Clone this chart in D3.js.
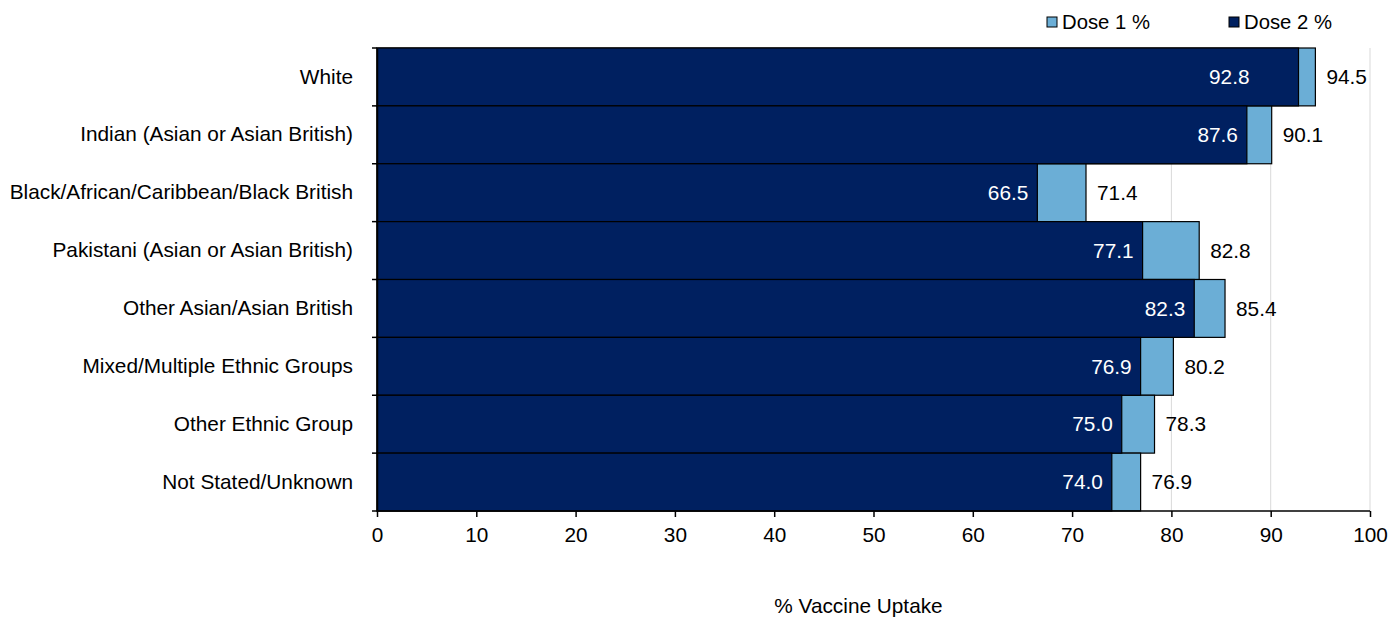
<!DOCTYPE html>
<html><head><meta charset="utf-8">
<script src="https://cdn.jsdelivr.net/npm/d3@7"></script>
<style>body{margin:0;background:#fff}svg{display:block}text{font-family:"Liberation Sans",Arial,sans-serif}</style>
</head><body><svg id="c" width="1391" height="619"></svg>
<script>
const categories = ["White","Indian (Asian or Asian British)","Black/African/Caribbean/Black British","Pakistani (Asian or Asian British)","Other Asian/Asian British","Mixed/Multiple Ethnic Groups","Other Ethnic Group","Not Stated/Unknown"];
const dose1 = [94.5,90.1,71.4,82.8,85.4,80.2,78.3,76.9];
const dose2 = [92.8,87.6,66.5,77.1,82.3,76.9,75.0,74.0];
const xTicks = [0,10,20,30,40,50,60,70,80,90,100];
const seriesNames = ["Dose 1 %","Dose 2 %"];
const colors = ["#6baed6","#002060"];

const svg = d3.select("#c");
const m = {left:377, top:48, right:21, bottom:108};
const W = 1391 - m.left - m.right, H = 619 - m.top - m.bottom;
const g = svg.append("g").attr("transform",`translate(${m.left},${m.top})`);
const x = d3.scaleLinear().domain([0,100]).range([0,W]);
const y = d3.scaleBand().domain(categories).range([0,H]).padding(0);
const rows = categories.map((c,i)=>({c,d1:dose1[i],d2:dose2[i],i}));
const fs = 20.8;
const ff = "Liberation Sans, Arial, sans-serif";

// gridlines
g.selectAll(".grid").data(xTicks.slice(1)).join("line")
  .attr("x1",d=>x(d)).attr("x2",d=>x(d)).attr("y1",0).attr("y2",H)
  .attr("stroke","#d9d9d9").attr("stroke-width",1);

// dose1 bars
g.selectAll(".b1").data(rows).join("rect")
  .attr("x",x(0)).attr("y",d=>y(d.c)).attr("width",d=>x(d.d1)-x(0)).attr("height",y.bandwidth())
  .attr("fill",colors[0]).attr("stroke","#000").attr("stroke-width",1.2);
// dose2 bars
g.selectAll(".b2").data(rows).join("rect")
  .attr("x",x(0)).attr("y",d=>y(d.c)).attr("width",d=>x(d.d2)-x(0)).attr("height",y.bandwidth())
  .attr("fill",colors[1]).attr("stroke","#000").attr("stroke-width",1.2);

// labels
g.selectAll(".l2").data(rows).join("text")
  .attr("x",d=>x(d.d2) - (d.d1===d3.max(dose1) ? 49 : 9))
  .attr("y",d=>y(d.c)+y.bandwidth()/2).attr("dy","0.35em")
  .attr("text-anchor","end").attr("fill","#fff").attr("font-size",fs)
  .text(d=>d.d2.toFixed(1));
g.selectAll(".l1").data(rows).join("text")
  .attr("x",d=>x(d.d1)+11)
  .attr("y",d=>y(d.c)+y.bandwidth()/2).attr("dy","0.35em")
  .attr("text-anchor","start").attr("fill","#000").attr("font-size",fs)
  .text(d=>d.d1.toFixed(1));

// y axis
const ya = g.append("g").call(d3.axisLeft(y).tickSize(0).tickPadding(24));
ya.select(".domain").attr("stroke","#000").attr("stroke-width",1.5);
ya.selectAll("text").attr("font-size",fs).attr("fill","#000").style("font-family",ff);
// boundary ticks
g.selectAll(".yt").data(d3.range(categories.length+1)).join("line")
  .attr("x1",-5).attr("x2",0).attr("y1",i=>i*y.step()).attr("y2",i=>i*y.step())
  .attr("stroke","#000").attr("stroke-width",1.5);

// x axis
const xa = g.append("g").attr("transform",`translate(0,${H})`)
  .call(d3.axisBottom(x).tickValues(xTicks).tickSize(6).tickPadding(10));
xa.select(".domain").attr("stroke","#000").attr("stroke-width",1.5).attr("d",`M0,0H${W}`);
xa.selectAll(".tick line").attr("stroke","#000").attr("stroke-width",1.5);
xa.selectAll("text").attr("font-size",fs).attr("fill","#000").style("font-family",ff);

// x title
svg.append("text").attr("x",m.left+W/2-15).attr("y",613).attr("text-anchor","middle")
  .attr("font-size",fs).attr("fill","#000").text("% Vaccine Uptake");

// legend
const legX = [1047,1229];
seriesNames.forEach((s,i)=>{
  svg.append("rect").attr("x",legX[i]).attr("y",17).attr("width",10).attr("height",10)
    .attr("fill",colors[i]).attr("stroke","#000").attr("stroke-width",1);
  svg.append("text").attr("x",legX[i]+15).attr("y",29).attr("font-size",fs - 0.5).attr("fill","#000").text(s);
});
</script></body></html>
